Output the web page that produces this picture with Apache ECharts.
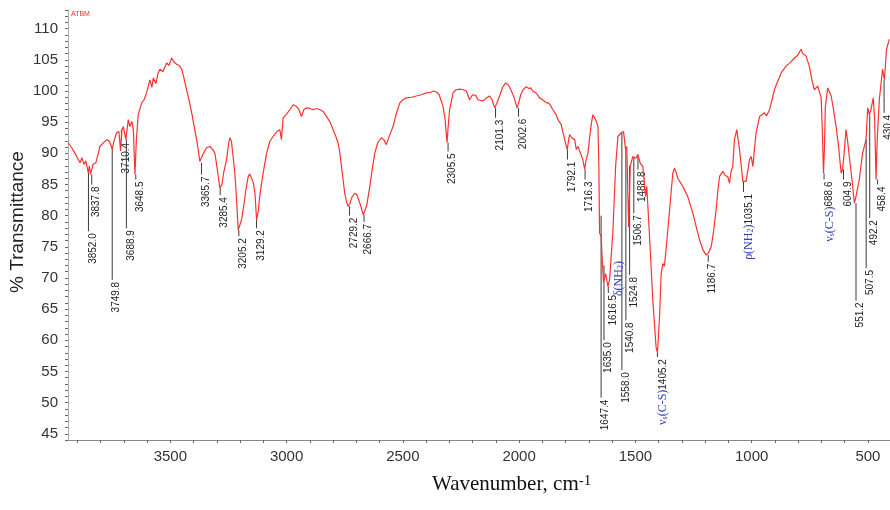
<!DOCTYPE html>
<html>
<head>
<meta charset="utf-8">
<script src="https://cdn.jsdelivr.net/npm/echarts@6/dist/echarts.min.js"></script>
<style>
html, body { margin: 0; background: #fff; }
#chart { width: 890px; height: 510px; }
</style>
</head>
<body>
<div id="chart"></div>
<script>
// IR spectrum, [wavenumber cm-1, %T]
const spectrum = [
  [3939,91.7],[3924,90.9],[3910,90.0],[3896,89.0],[3888,88.5],[3880,89.3],[3871,88.2],[3863,88.8],[3853,86.9],[3848,88.0],
  [3843,86.6],[3833,88.2],[3820,88.5],[3811,89.8],[3803,91.1],[3790,91.6],[3774,92.2],[3764,92.0],[3757,91.5],[3750,90.6],
  [3742,92.0],[3731,93.3],[3721,93.5],[3714,90.4],[3708,93.8],[3702,94.3],[3691,92.2],[3681,95.4],[3674,94.3],[3665,95.1],
  [3659,93.8],[3652,86.6],[3646,92.2],[3638,96.2],[3623,98.1],[3613,98.6],[3602,99.7],[3588,101.8],[3579,100.6],[3573,102.1],
  [3562,101.2],[3553,102.8],[3545,103.5],[3532,103.1],[3516,104.5],[3506,104.1],[3494,105.3],[3485,104.7],[3473,104.3],[3463,104.1],
  [3451,103.5],[3442,102.2],[3430,100.2],[3420,98.6],[3408,96.5],[3399,94.6],[3387,92.2],[3379,90.3],[3373,88.7],[3369,88.5],
  [3360,89.8],[3344,90.9],[3330,91.1],[3317,90.6],[3308,90.0],[3298,87.4],[3287,84.4],[3278,85.0],[3270,87.0],[3258,89.0],
  [3250,91.4],[3244,92.5],[3237,91.9],[3230,89.5],[3222,86.6],[3215,82.5],[3208,77.7],[3201,78.0],[3194,79.3],[3187,80.9],
  [3175,84.1],[3165,86.3],[3158,86.7],[3151,86.6],[3143,85.3],[3136,83.6],[3129,79.3],[3121,80.9],[3115,83.3],[3101,86.8],
  [3086,90.0],[3072,91.9],[3058,92.7],[3042,93.5],[3029,93.8],[3022,92.2],[3015,95.7],[3000,96.3],[2986,97.0],[2972,97.8],
  [2957,97.5],[2947,97.0],[2936,95.9],[2926,97.0],[2914,97.3],[2900,97.2],[2886,97.0],[2870,97.2],[2857,97.0],[2842,96.7],
  [2828,95.9],[2814,95.1],[2800,93.8],[2788,92.7],[2779,91.7],[2771,90.1],[2764,87.9],[2757,85.8],[2750,83.6],[2742,82.2],
  [2736,81.5],[2728,81.9],[2720,82.9],[2707,83.6],[2698,83.4],[2685,82.0],[2676,80.9],[2670,80.1],[2664,80.3],[2655,81.7],
  [2642,84.7],[2632,87.4],[2621,90.0],[2608,91.7],[2592,92.5],[2582,92.2],[2571,91.4],[2556,93.0],[2542,94.3],[2528,96.4],
  [2513,98.1],[2500,98.6],[2485,98.9],[2462,99.0],[2442,99.2],[2421,99.4],[2399,99.7],[2380,99.8],[2369,100.0],[2363,100.2],
  [2354,99.8],[2344,99.4],[2327,97.5],[2318,95.4],[2313,93.0],[2310,91.7],[2306,93.8],[2299,97.0],[2284,99.7],[2271,100.2],
  [2256,100.3],[2240,100.2],[2227,100.0],[2213,98.6],[2200,99.4],[2187,99.3],[2177,98.6],[2166,98.5],[2156,98.4],[2140,98.9],
  [2127,99.2],[2116,98.6],[2105,97.3],[2096,98.0],[2084,99.2],[2071,100.6],[2058,101.3],[2045,100.9],[2033,100.0],[2021,98.9],
  [2009,97.3],[2002,98.1],[1993,99.4],[1983,100.2],[1969,100.7],[1959,100.4],[1950,100.5],[1941,100.0],[1925,99.6],[1912,98.9],
  [1899,98.6],[1883,98.1],[1873,98.1],[1865,97.7],[1855,97.0],[1847,96.9],[1841,96.2],[1833,95.4],[1826,95.1],[1819,94.6],
  [1811,93.3],[1804,92.2],[1797,91.1],[1793,90.6],[1787,92.2],[1783,93.0],[1774,92.5],[1769,92.7],[1761,92.2],[1754,90.6],
  [1747,91.1],[1740,90.9],[1734,89.8],[1726,89.0],[1718,87.4],[1712,89.0],[1704,90.0],[1697,92.5],[1690,94.6],[1683,96.2],
  [1671,95.4],[1661,94.3],[1657,87.9],[1654,77.2],[1647,76.6],[1643,73.4],[1637,69.4],[1628,70.7],[1618,68.6],[1611,69.7],
  [1597,77.2],[1585,87.9],[1575,92.7],[1561,93.3],[1551,93.5],[1542,90.6],[1537,91.1],[1529,78.2],[1522,87.9],[1511,89.5],
  [1499,89.2],[1489,89.8],[1479,88.4],[1468,87.9],[1456,83.1],[1451,84.7],[1439,76.6],[1425,66.4],[1411,58.9],[1405,58.0],
  [1396,63.8],[1389,70.7],[1382,72.3],[1375,71.9],[1367,75.0],[1353,80.9],[1339,86.8],[1332,87.6],[1325,87.0],[1318,86.0],
  [1296,84.7],[1275,83.1],[1253,80.4],[1237,78.0],[1224,76.1],[1209,74.5],[1196,73.7],[1186,74.0],[1174,75.0],[1164,77.4],
  [1153,80.9],[1145,84.1],[1138,86.3],[1124,87.1],[1113,86.4],[1103,86.3],[1095,85.2],[1089,87.0],[1081,87.9],[1074,92.2],
  [1067,93.3],[1064,93.8],[1052,90.6],[1038,85.5],[1024,85.5],[1009,89.0],[1002,89.5],[995,87.9],[981,93.3],[966,95.9],
  [958,95.7],[945,96.5],[936,96.0],[923,97.0],[902,100.2],[889,101.5],[873,102.9],[852,104.0],[833,104.6],[816,105.3],
  [803,105.7],[795,106.2],[787,106.7],[780,106.0],[766,105.6],[752,104.0],[741,101.8],[730,100.2],[716,100.8],[701,98.9],
  [696,93.8],[691,86.8],[687,90.6],[683,97.5],[673,100.5],[658,99.2],[648,97.0],[637,94.3],[627,91.4],[615,86.8],
  [609,87.4],[601,90.6],[594,93.8],[588,92.2],[580,89.5],[571,86.6],[558,82.0],[550,83.3],[537,85.8],[523,90.0],
  [508,92.2],[501,97.3],[494,96.2],[487,97.0],[477,98.9],[471,95.4],[465,85.8],[460,92.2],[451,98.6],[437,103.5],
  [429,101.8],[420,106.7],[408,108.3]
]

// peak picks: label, %T where the stick leaves the trace, %T where the label starts
const peakLabels = ['3852.0','3837.8','3749.8','3710.4','3688.9','3648.5','3365.7','3285.4','3205.2','3129.2',
  '2729.2','2666.7','2305.5','2101.3','2002.6','1792.1','1716.3','1647.4','1635.0','1616.5',
  '1558.0','1540.8','1524.8','1506.7','1488.8','1405.2','1186.7','1035.1','688.6','604.9',
  '551.2','507.5','492.2','458.4','430.4']
const peakTop = [86.9, 86.6, 90.6, 93.8, 92.2, 86.6, 88.5, 84.4, 77.7, 79.3,
  81.5, 80.1, 91.7, 97.3, 97.3, 90.6, 87.4, 80.0, 72.0, 68.6,
  93.3, 90.6, 88.0, 89.3, 89.8, 58.0, 73.7, 85.5, 86.8, 87.4,
  82.0, 92.2, 96.2, 85.8, 101.8]
const peakBottom = [77.5, 85.0, 69.7, 92.0, 78.0, 85.8, 86.6, 83.3, 76.7, 78.0,
  80.0, 79.0, 90.3, 95.7, 95.9, 89.0, 85.8, 50.8, 60.0, 67.6,
  55.2, 63.2, 70.5, 80.4, 87.4, 57.3, 72.6, 83.8, 85.8, 85.8,
  66.4, 71.6, 79.6, 85.0, 96.5]

// band assignments written in blue
const bandTags = { '1405.2': 'nuCS', '1035.1': 'rhoNH2', '688.6': 'nuCS' }
const looseBands = [[1598, 67.1, 'deltaNH2']]

const yLabelValues = [45, 50, 55, 60, 65, 70, 75, 80, 85, 90, 95, 100, 105, 110]
const xLabelValues = [500, 1000, 1500, 2000, 2500, 3000, 3500]

const xTicks = []
for (let v = 500; v <= 3900; v += 100) xTicks.push(v)
const yTicks = []
for (let v = 44; v <= 113; v += 1) yTicks.push(v)

const blue = '#3040c0'
const tagText = {
  nuCS: '{g|ν}{s|s}{g|(C-S)}',
  rhoNH2: '{g|ρ(NH}{s|2}{g|)}',
  deltaNH2: '{g|δ(NH}{s|2}{g|)}'
}
const rich = {
  g: { fill: blue, fontFamily: 'Liberation Serif', fontSize: 12 },
  s: { fill: blue, fontFamily: 'Liberation Serif', fontSize: 8, verticalAlign: 'bottom' }
}

function renderPeak(params, api) {
  const i = params.dataIndex
  const a = api.coord([api.value(0), api.value(1)])
  const b = api.coord([api.value(0), api.value(2)])
  const tag = bandTags[peakLabels[i]]
  const text = (tag ? tagText[tag] : '') + peakLabels[i]
  return {
    type: 'group',
    children: [
      { type: 'line', shape: { x1: a[0], y1: a[1], x2: b[0], y2: b[1] }, style: { stroke: '#3a3a3a', lineWidth: 1 } },
      {
        type: 'text', x: b[0] - 0.5, y: b[1] + 2, rotation: Math.PI / 2,
        style: { text, rich, fill: '#222', fontSize: 10, fontFamily: 'Liberation Sans', align: 'right', verticalAlign: 'top' }
      }
    ]
  }
}

function renderBand(params, api) {
  const p = api.coord([api.value(0), api.value(1)])
  return {
    type: 'text', x: p[0], y: p[1], rotation: Math.PI / 2,
    style: { text: tagText[looseBands[params.dataIndex][2]], rich, fill: blue, align: 'left', verticalAlign: 'top' }
  }
}

const chart = echarts.init(document.getElementById('chart'))
chart.setOption({
  animation: false,
  backgroundColor: '#fff',
  grid: { left: 68, right: 0, top: 10, bottom: 70 },
  xAxis: {
    type: 'value', inverse: true, min: 405, max: 3940,
    axisLine: { lineStyle: { color: '#8a8a8a' } },
    axisTick: { customValues: xTicks, length: 3, lineStyle: { color: '#666' } },
    axisLabel: {
      customValues: xLabelValues, color: '#333', fontSize: 15, fontFamily: 'Liberation Sans', margin: 9,
      formatter: v => String(v)
    },
    splitLine: { show: false }
  },
  yAxis: {
    type: 'value', min: 44, max: 113,
    axisLine: { show: true, lineStyle: { color: '#b0b0b0' } },
    axisTick: { customValues: yTicks, length: 3, lineStyle: { color: '#666' } },
    axisLabel: {
      customValues: yLabelValues, color: '#333', fontSize: 15, fontFamily: 'Liberation Sans', margin: 10,
      formatter: v => String(v)
    },
    splitLine: { show: false }
  },
  graphic: [
    { type: 'text', left: 71, top: 11, style: { text: 'ATBM', fill: '#e83030', fontSize: 7, fontFamily: 'Liberation Sans' } },
    {
      type: 'text', x: 18, y: 222, rotation: Math.PI / 2,
      style: { text: '% Transmittance', fill: '#222', fontSize: 19, fontFamily: 'Liberation Sans', align: 'center', verticalAlign: 'middle' }
    },
    {
      type: 'text', left: 432, top: 474,
      style: {
        text: '{a|Wavenumber, cm}{b|-1}',
        rich: {
          a: { fontSize: 21, fontFamily: 'Liberation Serif', fill: '#111' },
          b: { fontSize: 15, fontFamily: 'Liberation Serif', fill: '#111', verticalAlign: 'top' }
        }
      }
    }
  ],
  series: [
    {
      type: 'line', data: spectrum, showSymbol: false, silent: true,
      lineStyle: { color: '#ff3030', width: 1.2 }
    },
    {
      type: 'custom', renderItem: renderPeak, silent: true, clip: false,
      encode: { x: 0, y: [1, 2] },
      data: peakLabels.map((l, i) => [parseFloat(l), peakTop[i], peakBottom[i]])
    },
    {
      type: 'custom', renderItem: renderBand, silent: true, clip: false,
      encode: { x: 0, y: 1 },
      data: looseBands.map(b => [b[0], b[1]])
    }
  ]
})
</script>
</body>
</html>
